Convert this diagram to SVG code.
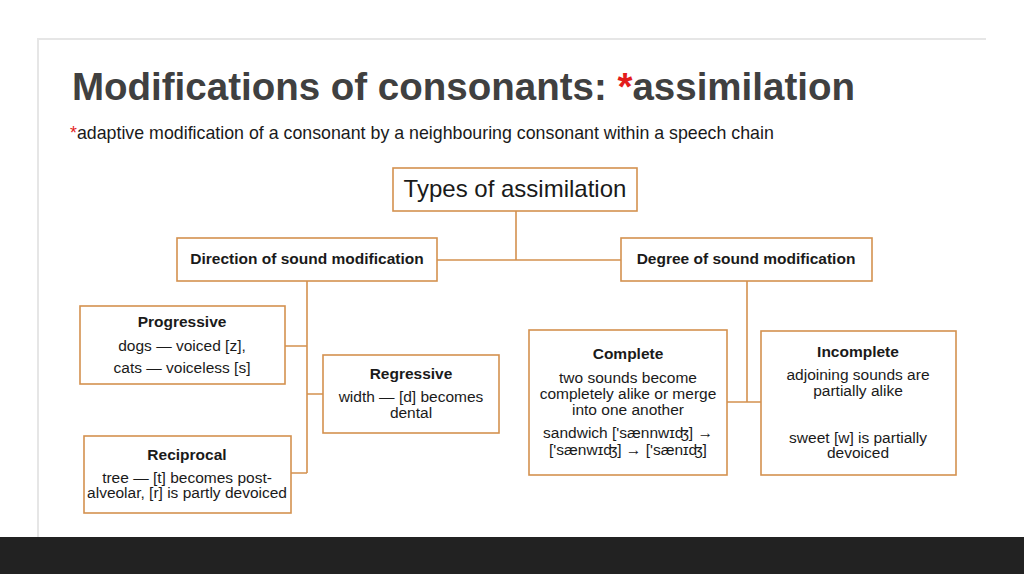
<svg xmlns="http://www.w3.org/2000/svg" width="1024" height="574" viewBox="0 0 1024 574">
<style>
.box{fill:#ffffff;stroke:#d4914f;stroke-width:1.6}
.ln{fill:none;stroke:#d4914f;stroke-width:1.6}
text{font-family:"Liberation Sans",Arial,sans-serif;fill:#1a1a1a}
.h{font-weight:bold;font-size:15.5px;text-anchor:middle}
.b{font-size:15.5px;text-anchor:middle}
</style>
<rect x="0" y="0" width="1024" height="574" fill="#ffffff"/>
<g id="panel">
<path d="M38 537 V39 H986" fill="none" stroke="#e6e6e6" stroke-width="2"/>
<rect x="0" y="537" width="1024" height="37" fill="#222222"/>
</g>
<g id="title">
<text x="72" y="100" font-size="38.5" font-weight="bold" style="fill:#404040">Modifications of consonants: <tspan style="fill:#e31c1c">*</tspan>assimilation</text>
<text x="70" y="139" font-size="17.8"><tspan style="fill:#e31c1c">*</tspan>adaptive modification of a consonant by a neighbouring consonant within a speech chain</text>
</g>
<g id="connectors">
<path class="ln" d="M516 211 V260 M437 260 H621"/>
<path class="ln" d="M307 281 V473 M285 346 H307 M307 394 H323 M291 473 H307"/>
<path class="ln" d="M747 281 V402 M727 402 H761"/>
</g>
<g id="types">
<rect class="box" x="393" y="168" width="244" height="43"/>
<text x="515" y="197" font-size="24" text-anchor="middle">Types of assimilation</text>
</g>
<g id="direction">
<rect class="box" x="177" y="238" width="260" height="43"/>
<text class="h" x="307" y="264">Direction of sound modification</text>
</g>
<g id="degree">
<rect class="box" x="621" y="238" width="251" height="43"/>
<text class="h" x="746" y="264">Degree of sound modification</text>
</g>
<g id="progressive">
<rect class="box" x="80" y="306" width="205" height="78"/>
<text class="h" x="182" y="327">Progressive</text>
<text class="b" x="182" y="351">dogs — voiced [z],</text>
<text class="b" x="182" y="373">cats — voiceless [s]</text>
</g>
<g id="regressive">
<rect class="box" x="323" y="355" width="176" height="78"/>
<text class="h" x="411" y="379">Regressive</text>
<text class="b" x="411" y="402">width — [d] becomes</text>
<text class="b" x="411" y="418">dental</text>
</g>
<g id="reciprocal">
<rect class="box" x="84" y="436" width="207" height="77"/>
<text class="h" x="187" y="460">Reciprocal</text>
<text class="b" x="187" y="483">tree — [t] becomes post-</text>
<text class="b" x="187" y="498">alveolar, [r] is partly devoiced</text>
</g>
<g id="complete">
<rect class="box" x="529" y="330" width="198" height="145"/>
<text class="h" x="628" y="359">Complete</text>
<text class="b" x="628" y="383">two sounds become</text>
<text class="b" x="628" y="399">completely alike or merge</text>
<text class="b" x="628" y="415">into one another</text>
<text class="b" x="628" y="438">sandwich ['sænnwɪʤ] →</text>
<text class="b" x="628" y="455">['sænwɪʤ] → ['sænɪʤ]</text>
</g>
<g id="incomplete">
<rect class="box" x="761" y="331" width="195" height="144"/>
<text class="h" x="858" y="357">Incomplete</text>
<text class="b" x="858" y="380">adjoining sounds are</text>
<text class="b" x="858" y="396">partially alike</text>
<text class="b" x="858" y="443">sweet [w] is partially</text>
<text class="b" x="858" y="458">devoiced</text>
</g>
</svg>
